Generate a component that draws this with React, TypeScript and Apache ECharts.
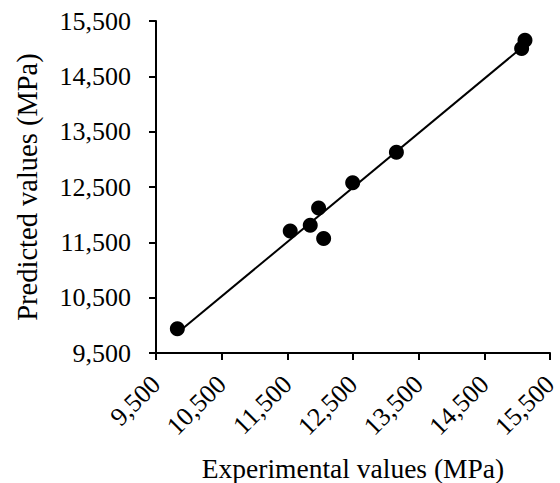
import React, { useEffect, useRef } from "react";
import * as echarts from "echarts";

const experimental = [9825, 11544, 11849, 11976, 12053, 12495, 13161, 15068, 15119];
const predicted = [9937, 11705, 11808, 12119, 11568, 12575, 13126, 15004, 15153];
const axisMin = 9500;
const axisMax = 15500;
const axisStep = 1000;

function fitLine(xs: number[], ys: number[]) {
  const n = xs.length;
  const mx = xs.reduce((a, b) => a + b, 0) / n;
  const my = ys.reduce((a, b) => a + b, 0) / n;
  let sxy = 0;
  let sxx = 0;
  for (let i = 0; i < n; i++) {
    sxy += (xs[i] - mx) * (ys[i] - my);
    sxx += (xs[i] - mx) * (xs[i] - mx);
  }
  const b = sxy / sxx;
  const a = my - b * mx;
  const x0 = Math.min(...xs);
  const x1 = Math.max(...xs);
  return [
    [x0, a + b * x0],
    [x1, a + b * x1],
  ];
}

const fmt = (v: number) => v.toLocaleString("en-US");

export default function App() {
  const ref = useRef<HTMLDivElement>(null);
  useEffect(() => {
    document.body.style.margin = "0";
    const chart = echarts.init(ref.current!, null, { renderer: "svg" });
    const font = "'Liberation Serif', 'Times New Roman', serif";
    const axisCommon = {
      type: "value" as const,
      min: axisMin,
      max: axisMax,
      interval: axisStep,
      splitLine: { show: false },
      axisLine: { show: true, lineStyle: { color: "#000", width: 2 } },
      axisTick: { show: true, inside: false, length: 7, lineStyle: { color: "#000", width: 2 } },
      nameLocation: "middle" as const,
      nameMoveOverlap: false,
    };
    chart.setOption({
      animation: false,
      backgroundColor: "#fff",
      grid: { left: 156, right: 10, top: 21, bottom: 130, outerBoundsMode: "none" },
      xAxis: {
        ...axisCommon,
        name: "Experimental values (MPa)",
        nameGap: 101,
        nameTextStyle: { color: "#000", fontFamily: font, fontSize: 27.5 },
        axisLabel: {
          rotate: 45,
          color: "#000",
          fontFamily: font,
          fontSize: 26,
          margin: 27,
          formatter: (v: number) => fmt(v),
        },
      },
      yAxis: {
        ...axisCommon,
        name: "Predicted values (MPa)",
        nameGap: 114,
        nameTextStyle: { color: "#000", fontFamily: font, fontSize: 28.5 },
        axisLabel: {
          color: "#000",
          fontFamily: font,
          fontSize: 26,
          margin: 25,
          formatter: (v: number) => fmt(v),
        },
      },
      series: [
        {
          type: "line",
          data: fitLine(experimental, predicted),
          showSymbol: false,
          symbol: "none",
          lineStyle: { color: "#000", width: 2 },
          z: 1,
        },
        {
          type: "scatter",
          data: experimental.map((x, i) => [x, predicted[i]]),
          symbol: "circle",
          symbolSize: 15,
          itemStyle: { color: "#000", opacity: 1 },
          z: 2,
        },
      ],
    });
    return () => chart.dispose();
  }, []);
  return <div ref={ref} style={{ width: 560, height: 483 }} />;
}
